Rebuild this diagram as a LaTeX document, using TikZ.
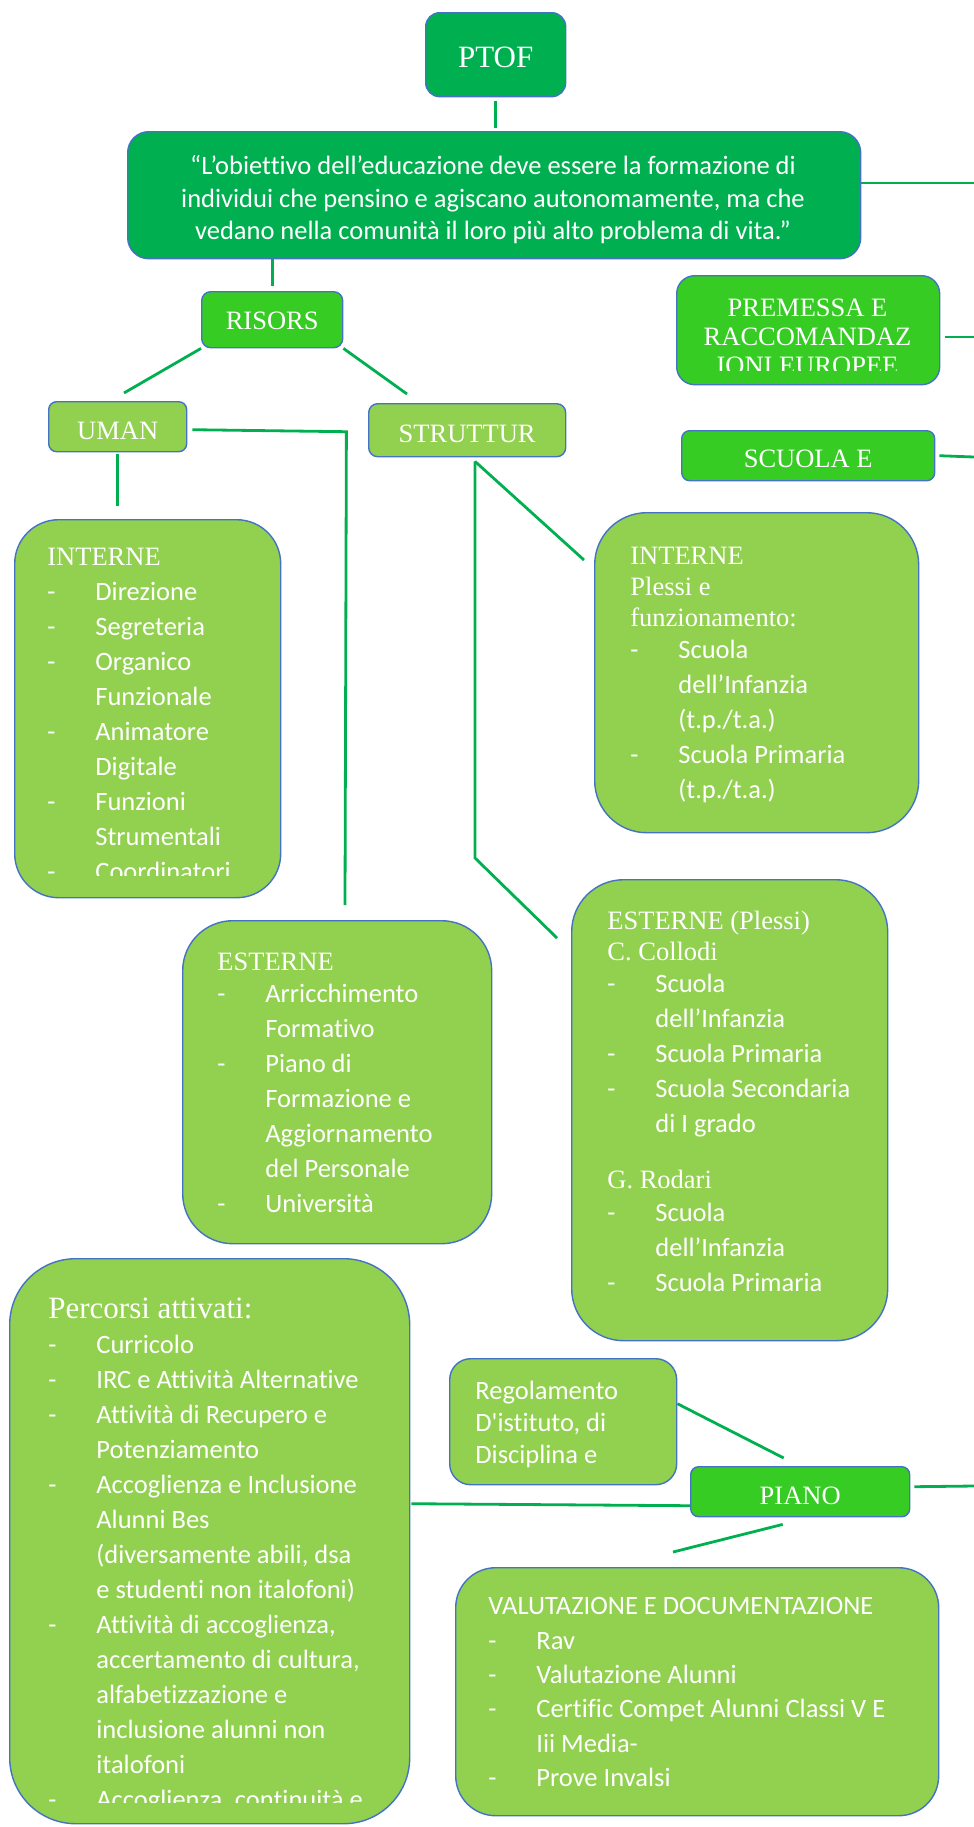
\documentclass[tikz,border=0pt]{standalone}
\usepackage{fontspec}
\setmainfont{Liberation Serif}
\newfontfamily\calib{Carlito}[Ligatures={TeXOff,CommonOff}]
\definecolor{ptofgreen}{HTML}{00B050}
\definecolor{midgreen}{HTML}{36CC24}
\definecolor{lightgreen}{HTML}{92D050}
\definecolor{boxline}{HTML}{4472C4}
\definecolor{linkgreen}{HTML}{00B050}
\newcommand{\dashitem}[1]{\makebox[24pt][l]{-}#1}
\newcommand{\contline}[1]{\hspace*{24pt}#1}
\begin{document}
\begin{tikzpicture}[x=0.5pt, y=-0.5pt,
    box/.style={draw=boxline, line width=0.7pt, anchor=north west, inner sep=0pt, text=white,
      font=\rmfamily\fontsize{13.25}{14.5}\selectfont},
    dark/.style={box, fill=ptofgreen},
    mid/.style={box, fill=midgreen},
    light/.style={box, fill=lightgreen},
    lowtext/.style={text height=#1, text depth=0pt},
    link/.style={draw=linkgreen, line width=1.4pt},
    body/.style={text=white, inner sep=0pt, anchor=north west, align=left,
      font=\calib\fontsize{13.25}{17.5}\selectfont}
]
\useasboundingbox (0,0) rectangle (974,1827);

% top of the map
\node[dark, minimum width=70pt, minimum height=42pt, rounded corners=7pt, lowtext=13pt,
  font=\rmfamily\fontsize{15.5}{18}\selectfont] (ptof) at (425,12) {PTOF};
\node[dark, minimum width=366.5pt, minimum height=63.5pt, rounded corners=10.5pt] (quote) at (127,131) {};
\node[body, anchor=north, align=center] (quotetxt) at (493,155)
  {“L’obiettivo dell’educazione deve essere la formazione di\\[-1.2pt]
   individui che pensino e agiscano autonomamente, ma che\\[-1.2pt]
   vedano nella comunità il loro più alto problema di vita.”};

% right column
\node[mid, minimum width=131.5pt, minimum height=54.5pt, rounded corners=9pt] (premessa) at (676,275) {};
\begin{scope}
  \clip (676,275) rectangle (939,370);
  \node[text=white, inner sep=0pt, anchor=north, align=center,
    font=\rmfamily\fontsize{13.25}{14.5}\selectfont] (premessatxt) at (807.5,299)
    {PREMESSA E\\RACCOMANDAZ\\IONI EUROPEE};
\end{scope}
\node[mid, minimum width=126.5pt, minimum height=25pt, rounded corners=4pt, lowtext=11.3pt] (scuola) at (681,430) {SCUOLA E};

% risorse
\node[mid, minimum width=70.5pt, minimum height=28pt, rounded corners=4.5pt, lowtext=9.8pt] (risors) at (201,291) {RISORS};
\node[light, minimum width=69pt, minimum height=25pt, rounded corners=4pt, lowtext=13pt] (uman) at (48,401) {UMAN};
\node[light, minimum width=98.5pt, minimum height=26.5pt, rounded corners=4.5pt, lowtext=11.8pt] (struttur) at (368,403) {STRUTTUR};

\node[light, minimum width=133pt, minimum height=189pt, rounded corners=22pt] (interneU) at (14,519) {};
\begin{scope}
  \clip (14,519) rectangle (280,875);
  \node[body] (interneUtxt) at (47,547.5) {{\rmfamily INTERNE}\\
    \dashitem{Direzione}\\
    \dashitem{Segreteria}\\
    \dashitem{Organico}\\
    \contline{Funzionale}\\
    \dashitem{Animatore}\\
    \contline{Digitale}\\
    \dashitem{Funzioni}\\
    \contline{Strumentali}\\
    \dashitem{Coordinatori}};
\end{scope}

\node[light, minimum width=162pt, minimum height=160pt, rounded corners=26pt] (interneS) at (594,512) {};
\node[body] (interneStxt) at (630,547) {{\rmfamily INTERNE}\\[-2pt]
  {\rmfamily Plessi e}\\[-2.2pt]
  {\rmfamily funzionamento:}\\[-1.2pt]
  \dashitem{Scuola}\\
  \contline{dell’Infanzia}\\
  \contline{(t.p./t.a.)}\\
  \dashitem{Scuola Primaria}\\
  \contline{(t.p./t.a.)}};

\node[light, minimum width=154.5pt, minimum height=161.5pt, rounded corners=25pt] (esterneU) at (182,920) {};
\node[body] (esterneUtxt) at (217,953) {{\rmfamily ESTERNE}\\[-1.5pt]
  \dashitem{Arricchimento}\\
  \contline{Formativo}\\
  \dashitem{Piano di}\\
  \contline{Formazione e}\\
  \contline{Aggiornamento}\\
  \contline{del Personale}\\
  \dashitem{Università}};

\node[light, minimum width=158pt, minimum height=230.5pt, rounded corners=26pt] (esterneS) at (571,879) {};
\node[body] (esterneStxt) at (607,911) {{\rmfamily ESTERNE (Plessi)}\\[-2pt]
  {\rmfamily C. Collodi}\\[-1.5pt]
  \dashitem{Scuola}\\
  \contline{dell’Infanzia}\\
  \dashitem{Scuola Primaria}\\
  \dashitem{Scuola Secondaria}\\
  \contline{di I grado}\\[10.5pt]
  {\rmfamily G. Rodari}\\[-1pt]
  \dashitem{Scuola}\\
  \contline{dell’Infanzia}\\
  \dashitem{Scuola Primaria}};

% piano
\node[light, minimum width=200pt, minimum height=282.5pt, rounded corners=33pt] (percorsi) at (9,1258) {};
\begin{scope}
  \clip (9,1258) rectangle (409,1802);
  \node[body] (percorsitxt) at (48,1297.5) {{\rmfamily\fontsize{15.5}{17.5}\selectfont Percorsi attivati:}\\
    \dashitem{Curricolo}\\
    \dashitem{IRC e Attività Alternative}\\
    \dashitem{Attività di Recupero e}\\
    \contline{Potenziamento}\\
    \dashitem{Accoglienza e Inclusione}\\
    \contline{Alunni Bes}\\
    \contline{(diversamente abili, dsa}\\
    \contline{e studenti non italofoni)}\\
    \dashitem{Attività di accoglienza,}\\
    \contline{accertamento di cultura,}\\
    \contline{alfabetizzazione e}\\
    \contline{inclusione alunni non}\\
    \contline{italofoni}\\
    \dashitem{Accoglienza, continuità e}};
\end{scope}

\node[light, minimum width=113.5pt, minimum height=63pt, rounded corners=10.5pt] (regolamento) at (449,1358) {};
\node[body] (regolamentotxt) at (475,1381) {Regolamento\\[-1.5pt]
  D'istituto, di\\[-1.5pt]
  Disciplina e};
\node[mid, minimum width=109.5pt, minimum height=25pt, rounded corners=4pt, lowtext=13pt] (piano) at (690,1466) {PIANO};

\node[light, minimum width=241.5pt, minimum height=124pt, rounded corners=20pt] (valutazione) at (455,1567) {};
\node[body, font=\calib\fontsize{13.25}{17.2}\selectfont] (valutazionetxt) at (488,1597) {VALUTAZIONE E DOCUMENTAZIONE\\
  \dashitem{Rav}\\
  \dashitem{Valutazione Alunni}\\
  \dashitem{Certific Compet Alunni Classi V E}\\
  \contline{Iii Media-}\\
  \dashitem{Prove Invalsi}};

% connectors
\coordinate (quoteend) at (974,183);
\coordinate (premend) at (974,337);
\coordinate (scuolaend) at (974,457);
\coordinate (umantip) at (124,393);
\coordinate (strtip) at (407,394);
\coordinate (esttip) at (345,905);
\coordinate (strbase) at (475,460);
\coordinate (intip) at (584,560);
\coordinate (estptip) at (557,938);
\coordinate (pianoend) at (974,1486);
\coordinate (valtip) at (673,1552);

\draw[link, shorten <=2pt, shorten >=1.5pt] (ptof.south) -- (ptof.south |- quote.north);
\draw[link] (quote.east |- quoteend) -- (quoteend);
\draw[link, shorten >=2.5pt] (risors.north |- quote.south) -- (risors.north);
\draw[link] (risors.south west) -- (umantip);
\draw[link] (risors.south east) -- (strtip);
\draw[link] ([shift={(5,3)}]uman.east) -- ++(154,2) -- (esttip);
\draw[link, shorten <=1pt, shorten >=6.5pt] (uman.south) -- (uman.south |- interneU.north);
\draw[link] (premessa.east |- premend) ++(5,0) -- (premend);
\draw[link] ([xshift=2pt]scuola.east) -- (scuolaend);
\draw[link] (struttur.south -| strbase) ++(0,4) -- (intip);
\draw[link] (struttur.south -| strbase) ++(0,4) -- (475,858) -- (estptip);
\draw[link] ([shift={(0,-18)}]regolamento.east) -- ([shift={(-16.5,-8)}]piano.north);
\draw[link] ([shift={(1,-37.5)}]percorsi.east) -- ([shift={(0,14)}]piano.west);
\draw[link] ([shift={(4,-5)}]piano.east) -- (pianoend);
\draw[link] ([shift={(-17.5,7)}]piano.south) -- (valtip);
\end{tikzpicture}
\end{document}
